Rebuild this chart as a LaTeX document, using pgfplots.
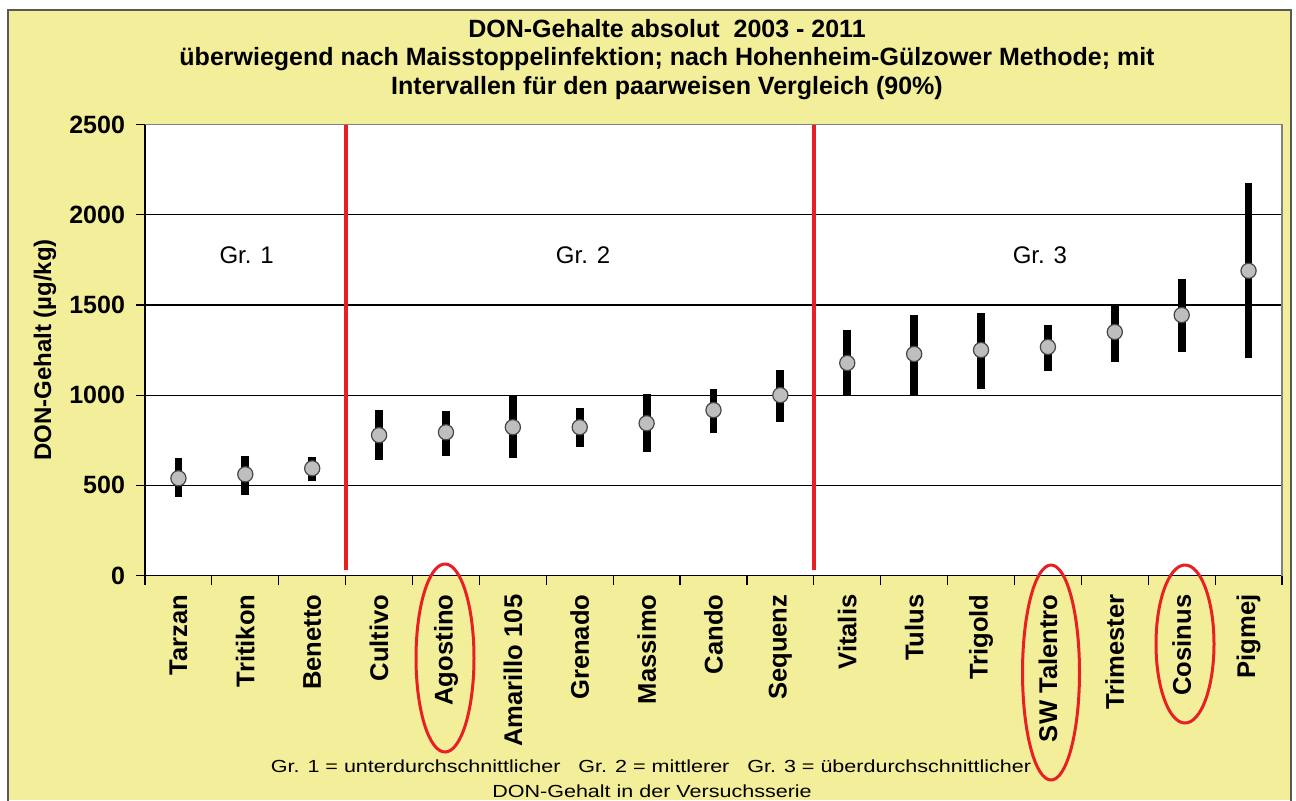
\documentclass[border=0pt]{standalone}
\usepackage{fontspec}
\setmainfont{Liberation Sans}
\usepackage{pgfplots}
\pgfplotsset{compat=1.18}
\usepackage{pgfplotstable}
\usepackage{graphicx}

\definecolor{bgyellow}{RGB}{243,238,153}
\definecolor{redline}{RGB}{232,32,36}
\definecolor{markfill}{RGB}{190,190,190}
\definecolor{markdraw}{RGB}{70,70,70}

% x = category index, y = mean, ep/em = upper/lower interval half-lengths
\pgfplotstableread{
x y ep em
0 539 111 106
1 561 100 117
2 594 62 72
3 778 139 139
4 794 117 133
5 822 172 172
6 822 106 111
7 844 162 161
8 917 116 128
9 1000 139 150
10 1178 183 184
11 1228 216 234
12 1250 206 217
13 1267 122 134
14 1350 150 167
15 1444 200 205
16 1689 489 483
}\dontable

\begin{document}
\begin{tikzpicture}
\useasboundingbox (0,0) rectangle (648pt,-400pt);
\fill[white] (0,0) rectangle (648pt,-400pt);
\fill[bgyellow] (4pt,-5pt) rectangle (645.5pt,-400pt);
\draw[black!65, line width=0.8pt] (4pt,-401pt) -- (4pt,-5pt) -- (645.5pt,-5pt) -- (645.5pt,-401pt);

\begin{axis}[
  at={(72.5pt,-287.75pt)}, anchor=south west,
  scale only axis, width=568.5pt, height=225.5pt,
  xmin=-0.5, xmax=16.5, ymin=0, ymax=2500,
  axis background/.style={fill=white},
  axis x line*=bottom, axis y line*=left,
  axis line style={black, line width=0.6pt},
  tick align=outside, major tick length=4.5pt,
  tick style={black, line width=0.6pt},
  ytick={0,500,...,2500},
  ymajorgrids, grid style={black, line width=0.6pt},
  /pgf/number format/assume math mode=true,
  /pgf/number format/1000 sep={},
  yticklabel style={font=\bfseries\fontsize{12.5}{14}\selectfont, xshift=-2pt},
  xtick={-0.5,0.5,...,16.5}, xticklabels={},
  extra x ticks={0,1,...,16},
  extra x tick labels={Tarzan,Tritikon,Benetto,Cultivo,Agostino,Amarillo 105,Grenado,Massimo,Cando,Sequenz,Vitalis,Tulus,Trigold,SW Talentro,Trimester,Cosinus,Pigmej},
  extra x tick style={major tick length=0pt, xticklabel style={font=\bfseries\fontsize{12.8}{14}\selectfont, rotate=90, anchor=east, xshift=-6pt}},
  clip=false,
]
\draw[gray, line width=0.6pt] (rel axis cs:0,1) -- (rel axis cs:1,1) -- (rel axis cs:1,0);
\draw[redline, line width=2pt] (axis cs:2.5,30) -- (axis cs:2.5,2500);
\draw[redline, line width=2pt] (axis cs:9.5,30) -- (axis cs:9.5,2500);
\addplot[only marks, mark=*, mark size=3.8pt,
  mark options={fill=markfill, draw=markdraw, line width=0.6pt},
  error bars/.cd, y dir=both, y explicit, error mark=none,
  error bar style={line width=3.9pt, black}]
  table[x=x, y=y, y error plus=ep, y error minus=em] {\dontable};
\node[font=\fontsize{12}{14}\selectfont] at (axis cs:1.02,1777) {Gr. 1};
\node[font=\fontsize{12}{14}\selectfont] at (axis cs:6.05,1777) {Gr. 2};
\node[font=\fontsize{12}{14}\selectfont] at (axis cs:12.88,1777) {Gr. 3};
\end{axis}

% titles
\node[anchor=base, font=\bfseries\fontsize{12.5}{15}\selectfont] at (333.5pt,-18.5pt) {DON-Gehalte absolut\ \ 2003 - 2011};
\node[anchor=base, font=\bfseries\fontsize{12.5}{15}\selectfont] at (333.5pt,-32.5pt) {überwiegend nach Maisstoppelinfektion; nach Hohenheim-Gülzower Methode; mit};
\node[anchor=base, font=\bfseries\fontsize{12.5}{15}\selectfont] at (333.5pt,-47pt) {Intervallen für den paarweisen Vergleich (90\%)};
% y label
\node[rotate=90, font=\bfseries\fontsize{12}{14}\selectfont] at (22.5pt,-175pt) {DON-Gehalt (µg/kg)};
% footnote
\node[anchor=base] at (325.5pt,-386pt) {\scalebox{1.23}[1]{\fontsize{8.75}{10}\selectfont Gr. 1 = unterdurchschnittlicher\ \ \ Gr. 2 = mittlerer\ \ \ Gr. 3 = überdurchschnittlicher}};
\node[anchor=base] at (326pt,-398.5pt) {\scalebox{1.23}[1]{\fontsize{8.75}{10}\selectfont DON-Gehalt in der Versuchsserie}};
% red ellipses
\draw[redline, line width=1.5pt] (222.5pt,-329pt) ellipse [x radius=14.5pt, y radius=47pt];
\draw[redline, line width=1.5pt] (525.5pt,-336.25pt) ellipse [x radius=14.25pt, y radius=53.75pt];
\draw[redline, line width=1.5pt] (592.5pt,-322pt) ellipse [x radius=14.5pt, y radius=39.5pt];
\end{tikzpicture}
\end{document}
